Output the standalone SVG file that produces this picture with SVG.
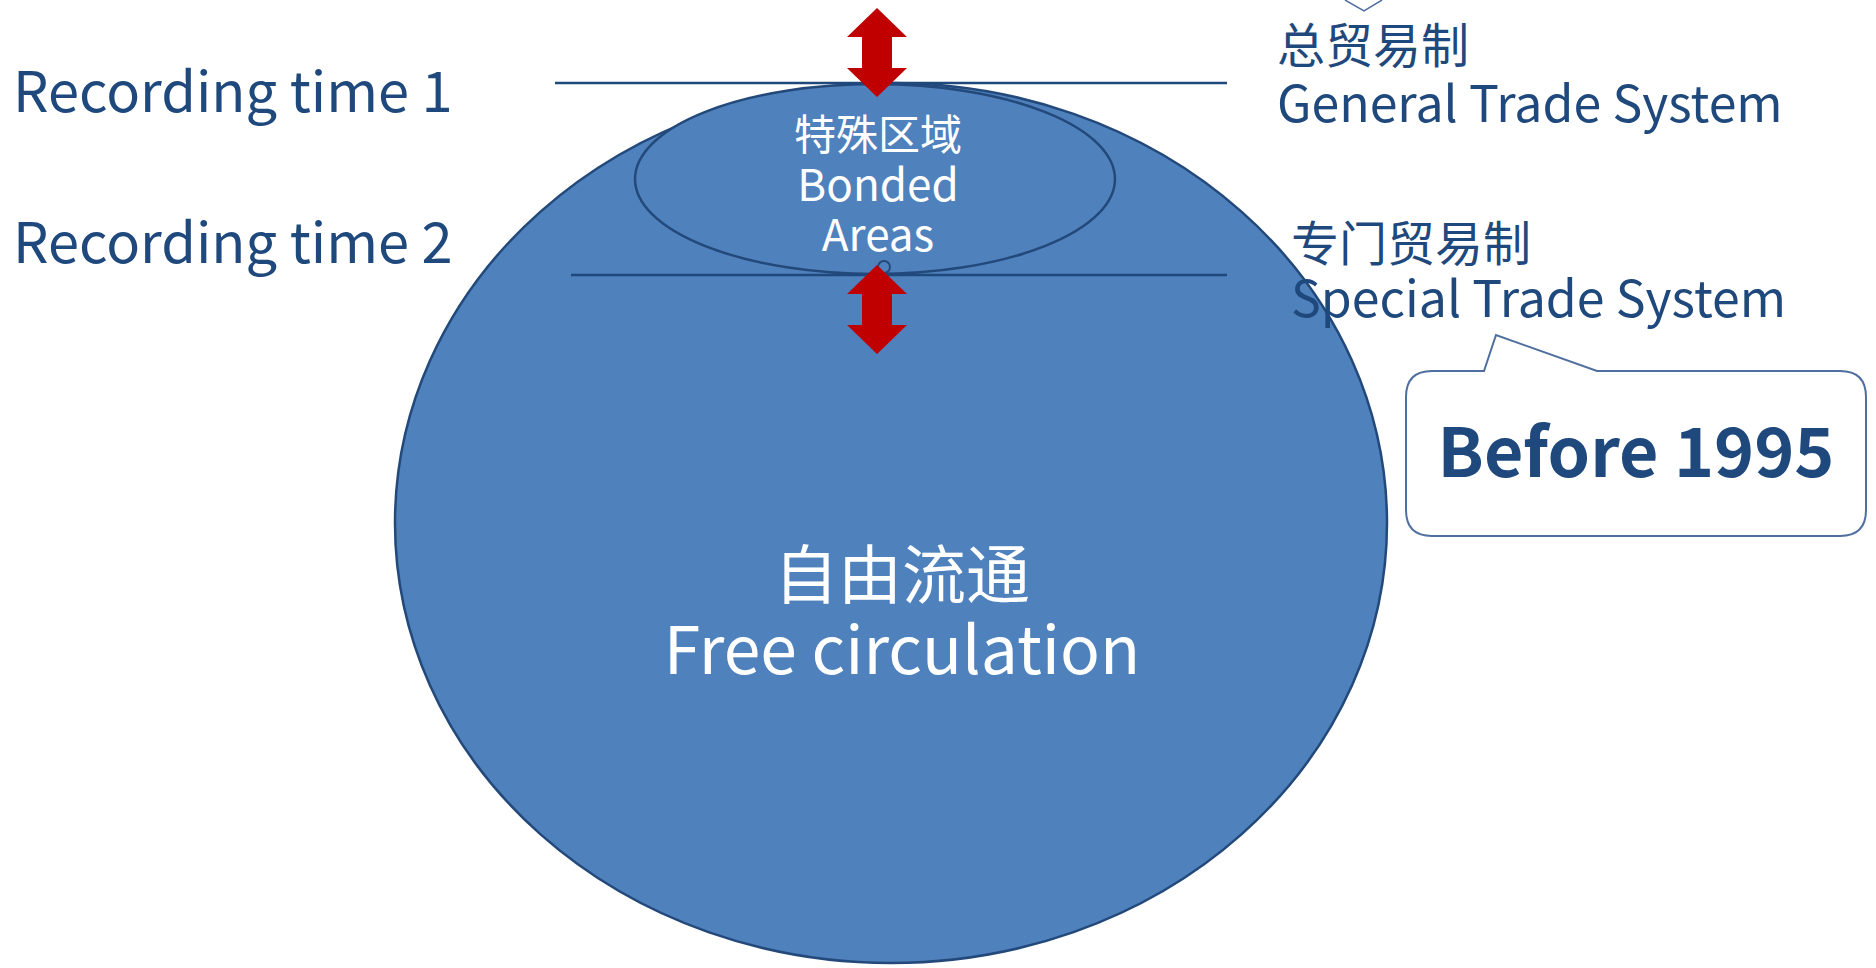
<svg xmlns="http://www.w3.org/2000/svg" width="1876" height="968" viewBox="0 0 1876 968">
<style>
.lbl{font-family:"Noto Sans CJK SC","Noto Sans",sans-serif;fill:#1F497D}
.wt{font-family:"Noto Sans CJK SC","Noto Sans",sans-serif;fill:#FFFFFF;text-anchor:middle}
.ln{stroke:#1F497D;stroke-width:2.5;fill:none}
.arr{fill:#C00000}
</style>
<rect width="1876" height="968" fill="#FFFFFF"/>
<g id="free-circulation">
<ellipse cx="891" cy="523" rx="496" ry="440" fill="#4F81BD" stroke="#23497A" stroke-width="2.5"/>
<text class="wt" x="902" y="598" font-size="64">自由流通</text>
<text class="wt" x="902" y="674" font-size="66">Free circulation</text>
</g>
<g id="bonded-areas">
<ellipse cx="875" cy="179" rx="240" ry="95" fill="#4F81BD" stroke="#23497A" stroke-width="2.5"/>
<text class="wt" x="878" y="150" font-size="42">特殊区域</text>
<text class="wt" x="878" y="201" font-size="44">Bonded</text>
<text class="wt" x="878" y="251" font-size="44">Areas</text>
<circle cx="884" cy="267" r="6" fill="none" stroke="#23497A" stroke-width="2"/>
</g>
<g id="connectors">
<line class="ln" x1="555" y1="83" x2="1227" y2="83"/>
<line class="ln" x1="571" y1="275" x2="1227" y2="275"/>
<polygon class="arr" points="877,8 907,37 892,37 892,68 907,68 877,97 847,68 862,68 862,37 847,37"/>
<polygon class="arr" points="877,265 907,294 892,294 892,325 907,325 877,354 847,325 862,325 862,294 847,294"/>
</g>
<g id="recording-time-1"><text class="lbl" x="13" y="112" font-size="56">Recording time 1</text></g>
<g id="recording-time-2"><text class="lbl" x="13" y="263" font-size="56">Recording time 2</text></g>
<g id="general-trade">
<text class="lbl" x="1277" y="63" font-size="48">总贸易制</text>
<text class="lbl" x="1277" y="122" font-size="50">General Trade System</text>
<polyline points="1345,0 1364,11 1382,0" fill="none" stroke="#4F6F9F" stroke-width="1.5"/>
</g>
<g id="special-trade">
<text class="lbl" x="1291" y="261" font-size="48">专门贸易制</text>
<text class="lbl" x="1291" y="317" font-size="50">Special Trade System</text>
</g>
<g id="before-1995">
<path d="M1432,371 L1484,371 L1496,335 L1597,371 L1840,371 Q1866,371 1866,397 L1866,510 Q1866,536 1840,536 L1432,536 Q1406,536 1406,510 L1406,397 Q1406,371 1432,371 Z" fill="#FFFFFF" stroke="#4F6F9F" stroke-width="2"/>
<text x="1636" y="477" font-size="68" font-weight="bold" text-anchor="middle" font-family="Noto Sans CJK SC,Noto Sans,sans-serif" fill="#1F497D">Before 1995</text>
</g>
</svg>
